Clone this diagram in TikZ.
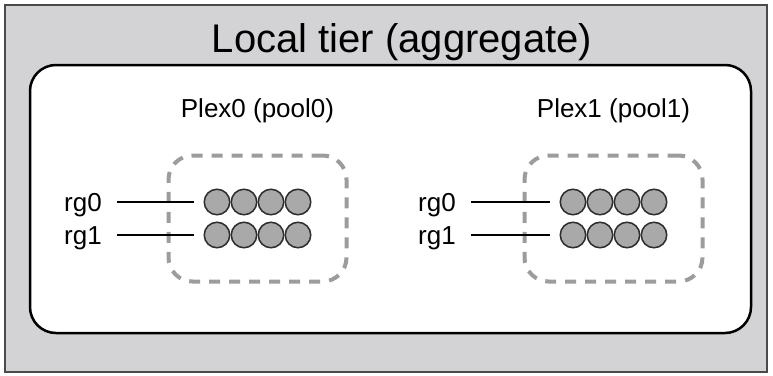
\documentclass[tikz,border=0pt]{standalone}
\usepackage{fontspec}
\setmainfont{Liberation Sans}
\usetikzlibrary{positioning, fit, backgrounds}

\definecolor{tierFill}{HTML}{D3D3D5}
\definecolor{tierEdge}{HTML}{4A4A4A}
\definecolor{diskFill}{HTML}{A9A9A9}
\definecolor{diskEdge}{HTML}{2E2E2E}
\definecolor{poolDash}{HTML}{9C9C9C}

\begin{document}
\begin{tikzpicture}[
		x=1pt, y=-1pt,
		% Frames
		tierframe/.style={fill=tierFill, draw=tierEdge, line width=2pt},
		aggrbox/.style={fill=white, draw=black, line width=2.5pt, rounded corners=26pt},
		% Dashed pool outline around the disks
		poolbox/.style={draw=poolDash, line width=4pt, dash pattern=on 11pt off 9pt,
			rounded corners=24pt, inner xsep=35pt, inner ysep=33pt},
		% Disks
		disk/.style={circle, minimum size=25.5pt, inner sep=0pt, fill=diskFill,
			draw=diskEdge, line width=1.5pt},
		% Text
		mainTitle/.style={font=\fontsize{40}{46}\selectfont, anchor=base},
		plex label/.style={font=\fontsize{26}{30}\selectfont},
		rg label/.style={font=\fontsize{26}{30}\selectfont, text height=18.6pt,
			text depth=0pt, inner sep=2pt},
		rg line/.style={draw=black, line width=1.6pt, shorten <=13pt, shorten >=10pt}
		]
		\useasboundingbox (0,0) rectangle (773,375);
		
		% Outer tier and aggregate
		\draw[tierframe] (5,5) rectangle (767,372);
		\node[mainTitle] (title) at (402,52) {Local tier (aggregate)};
		\draw[aggrbox] (30,65) rectangle (751,333);
		
		% Disks of both plexes
		\foreach \r/\y in {0/202, 1/235} {
			\foreach \c in {1,...,4} {
				\node[disk] (p0-\r-\c) at ({190+27*\c}, \y) {};
				\node[disk] (p1-\r-\c) at ({546+27*\c}, \y) {};
			}
		}
		
		% Plex0
		\node[poolbox, fit=(p0-0-1)(p0-1-4)] (pool0) {};
		\node[plex label, above=27pt of pool0] (plex0) {Plex0 (pool0)};
		\node[rg label] (rg0-0) at (83,202) {rg0};
		\node[rg label] (rg0-1) at (83,235) {rg1};
		\draw[rg line] (rg0-0) -- (p0-0-1);
		\draw[rg line] (rg0-1) -- (p0-1-1);
		
		% Plex1
		\node[poolbox, fit=(p1-0-1)(p1-1-4)] (pool1) {};
		\node[plex label, above=27pt of pool1] (plex1) {Plex1 (pool1)};
		\node[rg label] (rg1-0) at (437,202) {rg0};
		\node[rg label] (rg1-1) at (437,235) {rg1};
		\draw[rg line] (rg1-0) -- (p1-0-1);
		\draw[rg line] (rg1-1) -- (p1-1-1);
	\end{tikzpicture}
\end{document}
